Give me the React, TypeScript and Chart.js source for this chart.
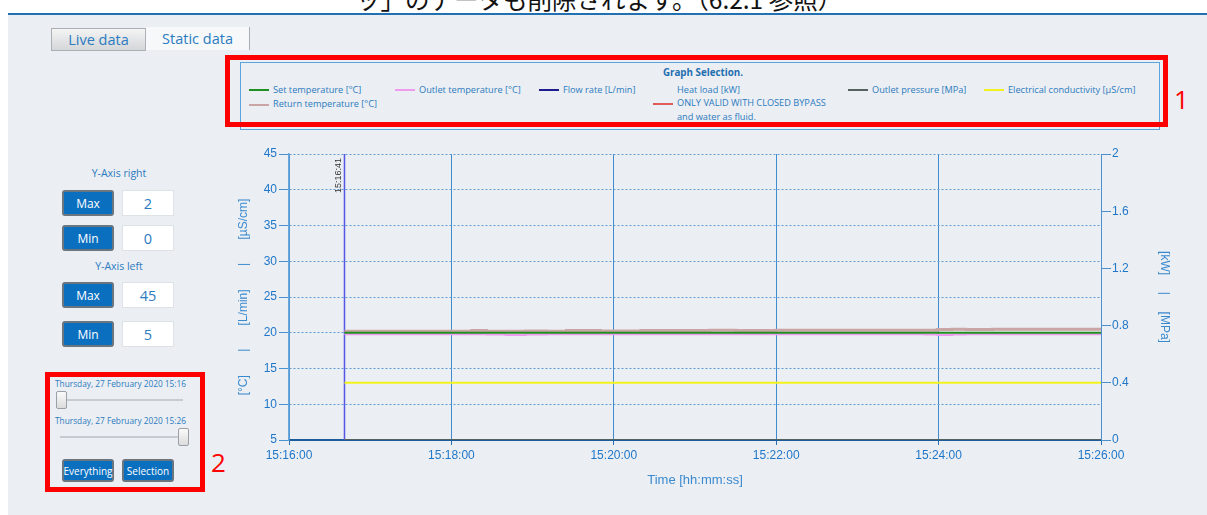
import React, { useEffect, useRef } from 'react';
import { Chart, registerables } from 'chart.js';

Chart.register(...registerables);

// ---------- data ----------
const timeSeconds = [41, 90, 135, 146, 160, 175, 190, 205, 230, 260, 300, 311, 330, 360, 400, 440, 470, 479, 490, 500, 520, 560, 600];
const setTemperature = [20, 20, 20, 20, 20, 20, 20, 20, 20, 20, 20, 20, 20, 20, 20, 20, 20, 20, 20, 20, 20, 20, 20];
const returnTemperature = [20.2, 20.2, 20.3, 20.2, 20.2, 20.25, 20.2, 20.3, 20.25, 20.3, 20.3, 20.35, 20.3, 20.35, 20.35, 20.35, 20.35, 20.45, 20.5, 20.45, 20.5, 20.5, 20.5];
const outletTemperature = [19.78, 19.78, 19.78, 19.75, 19.7, 19.75, 19.78, 19.78, 19.78, 19.78, 19.78, 19.78, 19.78, 19.78, 19.78, 19.78, 19.75, 19.7, 19.75, 19.8, 19.8, 19.8, 19.8];
const flowRate = [0, 0, 0, 0, 0, 0, 0, 0, 0, 0, 0, 0, 0, 0, 0, 0, 0, 0, 0, 0, 0, 0, 0];
const heatLoad = [0, 0, 0, 0, 0, 0, 0, 0, 0, 0, 0, 0, 0, 0, 0, 0, 0, 0, 0, 0, 0, 0, 0];
const outletPressure = [0, 0, 0, 0, 0, 0, 0, 0, 0, 0, 0, 0, 0, 0, 0, 0, 0, 0, 0, 0, 0, 0, 0];
const conductivity = [13, 13, 13, 13, 13, 13, 13, 13, 13, 13, 13, 13, 13, 13, 13, 13, 13, 13, 13, 13, 13, 13, 13];

const markerTime = 41;
const markerRange = [5, 45];
const markerLabel = '15:16:41';

const xTickLabels = ['15:16:00', '15:18:00', '15:20:00', '15:22:00', '15:24:00', '15:26:00'];
const rightTickLabels = ['0', '0.4', '0.8', '1.2', '1.6', '2'];
const xMin = 0;
const xMax = 600;
const xStep = 120;
const leftMin = 5;
const leftMax = 45;
const leftStep = 5;
const rightMin = 0;
const rightMax = 2;
const rightStep = 0.4;

const legendItems = [
  { label: 'Set temperature [°C]', color: '#1f8f1f' },
  { label: 'Return temperature [°C]', color: '#c9a5a5' },
  { label: 'Outlet temperature [°C]', color: '#ee9aee' },
  { label: 'Flow rate [L/min]', color: '#1c1c8e' },
  { label: 'ONLY VALID WITH CLOSED BYPASS', color: '#e05a5a' },
  { label: 'Outlet pressure [MPa]', color: '#56625f' },
  { label: 'Electrical conductivity [µS/cm]', color: '#f3f31c' },
];

// ---------- styles ----------
const UI = '"Open Sans", "Noto Sans", sans-serif';
const AX = '"Liberation Sans", Arial, sans-serif';
const BLUE = '#2b7bbf';
const TICK = '#1f77c9';

const abs = (l: number, t: number, w?: number, h?: number): React.CSSProperties => ({
  position: 'absolute', left: l, top: t, width: w, height: h, boxSizing: 'border-box',
});

const pts = (vals: number[]) => timeSeconds.map((t, i) => ({ x: t, y: vals[i] }));

const markerLabelPlugin = {
  id: 'markerLabel',
  afterDatasetsDraw(chart: any) {
    const { ctx, chartArea, scales } = chart;
    const x = scales.x.getPixelForValue(markerTime);
    ctx.save();
    ctx.translate(x - 6, chartArea.top + 4);
    ctx.rotate(-Math.PI / 2);
    ctx.font = `9px ${AX}`;
    ctx.fillStyle = '#333333';
    ctx.textAlign = 'right';
    ctx.textBaseline = 'middle';
    ctx.fillText(markerLabel, 0, 0);
    ctx.restore();
  },
};

function ChartCanvas() {
  const ref = useRef<HTMLCanvasElement>(null);
  useEffect(() => {
    if (!ref.current) return;
    const c = legendItems;
    const chart = new Chart(ref.current, {
      type: 'line',
      data: {
        datasets: [
          { label: c[0].label, data: pts(setTemperature), borderColor: c[0].color, borderWidth: 2, yAxisID: 'y', stepped: true },
          { label: c[2].label, data: pts(outletTemperature), borderColor: c[2].color, borderWidth: 2, yAxisID: 'y', stepped: true },
          { label: c[1].label, data: pts(returnTemperature), borderColor: c[1].color, borderWidth: 3, yAxisID: 'y', stepped: true },
          { label: c[6].label, data: pts(conductivity), borderColor: c[6].color, borderWidth: 2, yAxisID: 'y' },
          { label: c[5].label, data: pts(outletPressure), borderColor: c[5].color, borderWidth: 2, yAxisID: 'y1' },
          { label: 'Heat load [kW]', data: pts(heatLoad), borderColor: c[4].color, borderWidth: 2, yAxisID: 'y1' },
          { label: c[3].label, data: pts(flowRate), borderColor: c[3].color, borderWidth: 2, yAxisID: 'y' },
          { label: 'marker', data: [{ x: markerTime, y: markerRange[0] }, { x: markerTime, y: markerRange[1] }], borderColor: '#5656e6', borderWidth: 1.5, yAxisID: 'y' },
        ] as any,
      },
      options: {
        animation: false,
        responsive: false,
        maintainAspectRatio: false,
        layout: { padding: { top: 10, left: 0, right: 0, bottom: 0 } },
        plugins: { legend: { display: false }, tooltip: { enabled: false } },
        elements: { point: { radius: 0 }, line: { tension: 0 } },
        scales: {
          x: {
            type: 'linear', min: xMin, max: xMax,
            ticks: { stepSize: xStep, autoSkip: false, maxRotation: 0, padding: 3, color: TICK, font: { family: AX, size: 12 }, callback: (_v: any, i: number) => xTickLabels[i] },
            grid: { color: '#3f8bd0', lineWidth: 1, tickLength: 5, tickColor: '#2a6fb5' },
            border: { color: '#1a5c9c', width: 2 },
            title: { display: true, text: 'Time [hh:mm:ss]', color: '#3a8ad0', font: { family: AX, size: 13 }, padding: { top: 0, bottom: 7 } },
            afterFit: (s: any) => { s.height = 55; },
          },
          y: {
            position: 'left', min: leftMin, max: leftMax,
            ticks: { stepSize: leftStep, padding: 2, color: TICK, font: { family: AX, size: 12 } },
            grid: {
              color: (ctx: any) => (ctx.tick && ctx.tick.value === leftMin ? 'rgba(0,0,0,0)' : '#5b9bd5'),
              lineWidth: 1, tickLength: 10, tickColor: '#4a8fd0', tickBorderDash: [],
            },
            border: { color: '#6aa6da', width: 1.5, dash: [2, 2] },
            title: { display: true, text: '[°C]       |       [L/min]       |       [µS/cm]', color: '#3a8ad0', font: { family: AX, size: 12 }, padding: { top: 7, bottom: 0 } },
            afterFit: (s: any) => { s.width = 60; },
          },
          y1: {
            position: 'right', min: rightMin, max: rightMax,
            ticks: { stepSize: rightStep, padding: 1, color: TICK, font: { family: AX, size: 12 }, callback: (_v: any, i: number) => rightTickLabels[i] },
            grid: { drawOnChartArea: false, tickLength: 10, color: '#4a8fd0' },
            border: { color: '#4a8fd0', width: 1 },
            title: { display: true, text: '[kW]     |     [MPa]', color: '#3a8ad0', font: { family: AX, size: 12 }, padding: { top: 13, bottom: 0 } },
            afterFit: (s: any) => { s.width = 84; },
          },
        },
      } as any,
      plugins: [markerLabelPlugin],
    });
    return () => chart.destroy();
  }, []);
  return <canvas ref={ref} width={956} height={351} style={{ position: 'absolute', left: 229, top: 144, width: 956, height: 351 }} />;
}

function BlueButton({ l, t, w, h, text, size }: { l: number; t: number; w: number; h: number; text: string; size: number }) {
  return (
    <div style={{ ...abs(l, t, w, h), background: '#0b6fbf', border: '2px solid #6b7580', borderRadius: 3, color: '#fff', fontFamily: UI, fontSize: size, display: 'flex', alignItems: 'center', justifyContent: 'center' }}>{text}</div>
  );
}

function ValueBox({ l, t, text }: { l: number; t: number; text: string }) {
  return (
    <div style={{ ...abs(l, t, 52, 26), background: '#fff', border: '1px solid #dde2e7', color: BLUE, fontFamily: UI, fontSize: 14.5, display: 'flex', alignItems: 'center', justifyContent: 'center' }}>{text}</div>
  );
}

function Slider({ t, x1, x2, thumb, thumbTop }: { t: number; x1: number; x2: number; thumb: number; thumbTop: number }) {
  return (
    <>
      <div style={{ ...abs(x1, t, x2 - x1, 2), background: '#c4cbd2' }} />
      <div style={{ ...abs(thumb, thumbTop, 11, 18), background: 'linear-gradient(#fafafa, #dcdcdc)', border: '1px solid #9aa0a6', borderRadius: 2 }} />
    </>
  );
}

export default function App() {
  const legendText: React.CSSProperties = { fontFamily: UI, fontSize: 9.2, color: BLUE, whiteSpace: 'nowrap', lineHeight: '12px' };
  const seg = (l: number, t: number, color: string) => <div style={{ ...abs(l, t, 20, 2), background: color }} />;
  const txt = (l: number, t: number, s: string) => <div style={{ ...abs(l, t), ...legendText }}>{s}</div>;
  return (
    <div style={{ position: 'fixed', left: 0, top: 0, width: 1207, height: 515, overflow: 'hidden', background: '#ffffff' }}>
      {/* header */}
      <div style={{ ...abs(356, -13), fontFamily: '"Noto Sans CJK JP", sans-serif', fontSize: 24.5, lineHeight: '24.5px', color: '#111', whiteSpace: 'nowrap' }}>ッ」のデータも削除されます。（6.2.1 参照）</div>
      <div style={{ ...abs(8, 13, 1199, 2), background: '#2070b2' }} />
      <div style={{ ...abs(8, 15, 1199, 500), background: '#ebeef2' }} />

      {/* tabs */}
      <div style={{ ...abs(51, 28, 95, 23), background: 'linear-gradient(#f4f4f4, #d4d6d8)', border: '1px solid #aab0b5', color: BLUE, fontFamily: UI, fontSize: 14.5, display: 'flex', alignItems: 'center', justifyContent: 'center' }}>Live data</div>
      <div style={{ ...abs(146, 27, 104, 23), background: '#f6f8fa', borderRight: '1px solid #a8aeb4', color: BLUE, fontFamily: UI, fontSize: 14.5, display: 'flex', alignItems: 'center', justifyContent: 'center' }}>Static data</div>

      {/* legend */}
      <div style={{ ...abs(240, 62, 920, 68), border: '1px solid #5aa3dc' }} />
      <div style={{ ...abs(600, 66, 206), textAlign: 'center', fontFamily: UI, fontSize: 9.8, fontWeight: 700, color: '#1f6fb0', lineHeight: '14px' }}>Graph Selection.</div>
      {seg(249, 89, legendItems[0].color)}{txt(273, 84, legendItems[0].label)}
      {seg(249, 104, legendItems[1].color)}{txt(273, 98, legendItems[1].label)}
      {seg(395, 89, legendItems[2].color)}{txt(419, 84, legendItems[2].label)}
      {seg(539, 89, legendItems[3].color)}{txt(563, 84, legendItems[3].label)}
      {txt(677, 84, 'Heat load [kW]')}
      {seg(653, 103, legendItems[4].color)}{txt(677, 97, legendItems[4].label)}
      {txt(677, 111, 'and water as fluid.')}
      {seg(848, 89, legendItems[5].color)}{txt(872, 84, legendItems[5].label)}
      {seg(984, 89, legendItems[6].color)}{txt(1008, 84, legendItems[6].label)}
      <div style={{ ...abs(225, 55, 943, 72), border: '5px solid #ff0000' }} />
      <div style={{ ...abs(1174, 84), fontFamily: UI, fontSize: 26, color: '#ff0000', lineHeight: '30px' }}>1</div>

      {/* left panel */}
      <div style={{ ...abs(60, 166, 118), textAlign: 'center', fontFamily: UI, fontSize: 10.5, color: BLUE }}>Y-Axis right</div>
      <BlueButton l={62} t={190} w={52} h={26} text="Max" size={12} />
      <ValueBox l={122} t={190} text="2" />
      <BlueButton l={62} t={225} w={52} h={26} text="Min" size={12} />
      <ValueBox l={122} t={225} text="0" />
      <div style={{ ...abs(60, 259, 118), textAlign: 'center', fontFamily: UI, fontSize: 10.5, color: BLUE }}>Y-Axis left</div>
      <BlueButton l={62} t={282} w={52} h={26} text="Max" size={12} />
      <ValueBox l={122} t={282} text="45" />
      <BlueButton l={62} t={321} w={52} h={26} text="Min" size={12} />
      <ValueBox l={122} t={321} text="5" />

      <div style={{ ...abs(55, 378), fontFamily: UI, fontSize: 8.3, color: BLUE, whiteSpace: 'nowrap' }}>Thursday, 27 February 2020 15:16</div>
      <Slider t={399} x1={60} x2={183} thumb={56} thumbTop={391} />
      <div style={{ ...abs(55, 415), fontFamily: UI, fontSize: 8.3, color: BLUE, whiteSpace: 'nowrap' }}>Thursday, 27 February 2020 15:26</div>
      <Slider t={436} x1={60} x2={183} thumb={178} thumbTop={428} />
      <BlueButton l={62} t={459} w={52} h={23} text="Everything" size={10} />
      <BlueButton l={122} t={459} w={52} h={23} text="Selection" size={10} />
      <div style={{ ...abs(45, 372, 160, 120), border: '5px solid #ff0000' }} />
      <div style={{ ...abs(211, 447), fontFamily: UI, fontSize: 26, color: '#ff0000', lineHeight: '30px' }}>2</div>

      <ChartCanvas />
    </div>
  );
}
